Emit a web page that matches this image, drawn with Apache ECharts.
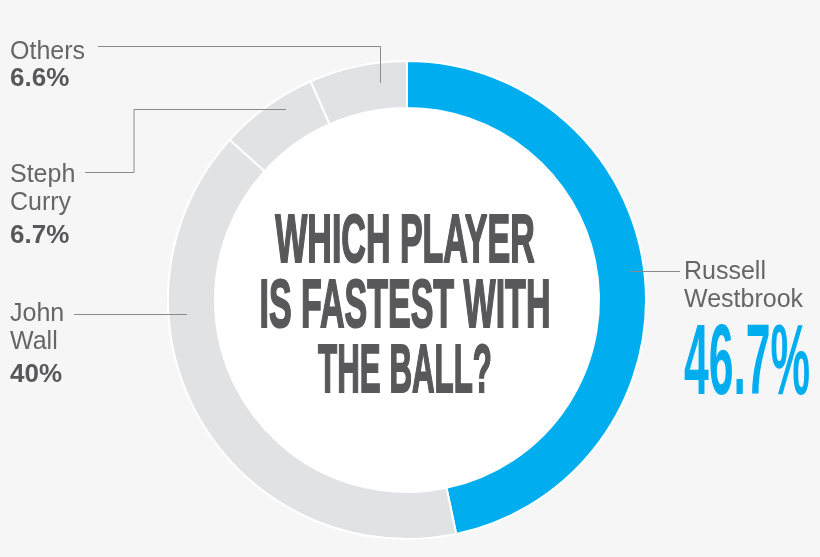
<!DOCTYPE html>
<html><head><meta charset="utf-8">
<script src="https://cdn.jsdelivr.net/npm/echarts@6/dist/echarts.min.js"></script>
<style>html,body{margin:0;padding:0;background:#f6f6f6;}#c{width:820px;height:557px;}</style>
</head><body><div id="c"></div>
<script>
const categories = ['Russell Westbrook', 'John Wall', 'Steph Curry', 'Others'];
const shares = [46.7, 40, 6.7, 6.6];
const sliceColors = ['#00aeef', '#e1e2e4', '#e1e2e4', '#e1e2e4'];
const titleLines = ['WHICH PLAYER', 'IS FASTEST WITH', 'THE BALL?'];

const CX = 407, CY = 300, R_IN = 192, R_OUT = 239;
const labelPos = [
  {x: 684, y: 258, pctGap: 38, line: [[630, 271.5], [680, 271.5]]},
  {x: 10, y: 300, pctGap: 38, line: [[74, 314.5], [187, 314.5]]},
  {x: 10, y: 161, pctGap: 38, line: [[85, 172.5], [134, 172.5], [134, 109.5], [286, 109.5]]},
  {x: 10, y: 38, pctGap: 27, line: [[98, 46.5], [380.5, 46.5], [380.5, 83]]}
];

const chart = echarts.init(document.getElementById('c'));
const titleGraphics = titleLines.map((t, i) => ({
  type: 'text', x: 405, y: 243 + i * 65, scaleX: i === 2 ? 0.46 : 0.5, z: 10,
  style: {text: t, x: 0, y: 0, align: 'center', verticalAlign: 'middle',
    textAlign: 'center', textVerticalAlign: 'middle',
    fontFamily: 'Liberation Sans', fontWeight: 'bold', fontSize: 68,
    fill: '#58585a', stroke: '#58585a', lineWidth: 2}
}));
const lineGraphics = labelPos.map(L => ({
  type: 'polyline', z: 20, shape: {points: L.line},
  style: {stroke: '#8a8a8a', lineWidth: 1, fill: null}
}));

chart.setOption({
  backgroundColor: '#f6f6f6',
  animation: false,
  graphic: [
    {type: 'circle', shape: {cx: CX, cy: CY, r: R_IN}, style: {fill: '#ffffff'}, z: 0},
    ...titleGraphics,
    ...lineGraphics,
    {type: 'text', x: 684, y: 366, scaleX: 0.44, z: 10,
      style: {text: shares[0] + '%', x: 0, y: 0, align: 'left', verticalAlign: 'middle',
        textAlign: 'left', textVerticalAlign: 'middle',
        fontFamily: 'Liberation Sans', fontWeight: 'bold', fontSize: 101,
        fill: '#00aeef'}}
  ],
  series: [{
    type: 'pie',
    center: [CX, CY],
    radius: [R_IN, R_OUT],
    startAngle: 90,
    clockwise: true,
    silent: true,
    itemStyle: {borderColor: '#ffffff', borderWidth: 2},
    data: categories.map((n, i) => ({name: n, value: shares[i], itemStyle: {color: sliceColors[i]}})),
    label: {
      show: true,
      position: 'outside',
      overflow: 'none',
      width: 200,
      formatter: p => {
        const nm = '{n|' + p.name.split(' ').join('}\n{n|') + '}';
        if (p.dataIndex === 0) return nm;
        return nm + '\n{' + (labelPos[p.dataIndex].pctGap < 30 ? 'q' : 'p') + '|' + p.value + '%}';
      },
      rich: {
        n: {fontFamily: 'Liberation Sans', fontSize: 25, color: '#666666', lineHeight: 28},
        p: {fontFamily: 'Liberation Sans', fontSize: 26, fontWeight: 'bold', color: '#58585a', lineHeight: 38},
        q: {fontFamily: 'Liberation Sans', fontSize: 26, fontWeight: 'bold', color: '#58585a', lineHeight: 26}
      }
    },
    labelLine: {show: false},
    labelLayout: p => {
      const L = labelPos[p.dataIndex];
      return {x: L.x, y: L.y, align: 'left', verticalAlign: 'top'};
    }
  }]
});
</script></body></html>
